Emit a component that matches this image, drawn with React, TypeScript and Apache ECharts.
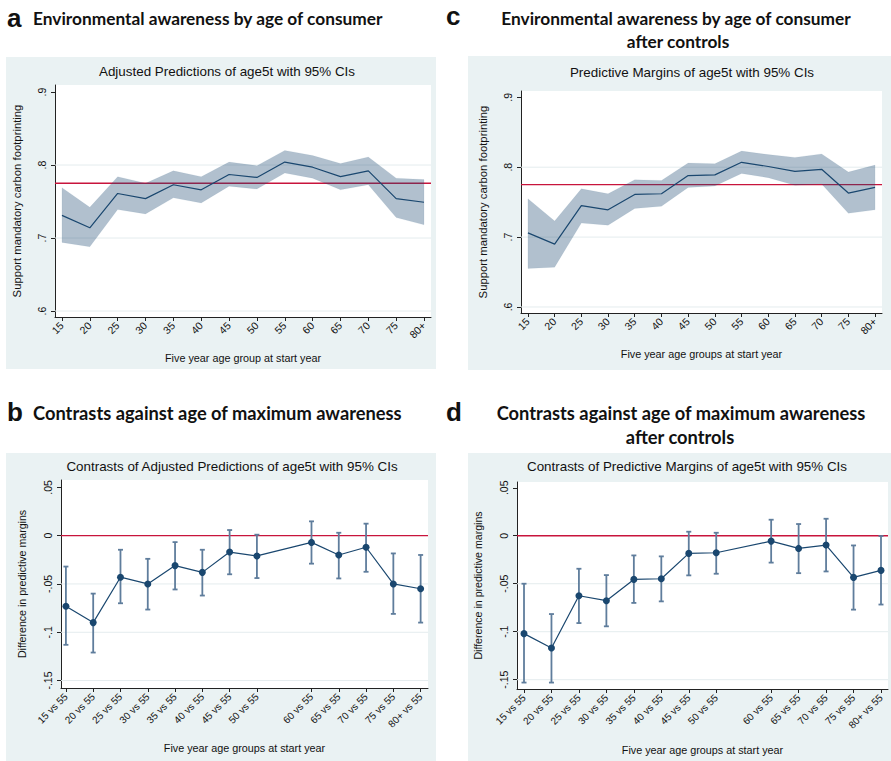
import React, { useEffect, useRef } from "react";
import * as echarts from "echarts";

// ---- data ----
const ages = ["15", "20", "25", "30", "35", "40", "45", "50", "55", "60", "65", "70", "75", "80+"];
const baseAge = "55";

// Panel a: Adjusted predictions
const predA = [0.731, 0.714, 0.761, 0.754, 0.773, 0.766, 0.787, 0.783, 0.804, 0.797, 0.784, 0.792, 0.754, 0.749];
const loA = [0.694, 0.688, 0.739, 0.733, 0.755, 0.748, 0.771, 0.767, 0.789, 0.782, 0.766, 0.773, 0.728, 0.718];
const hiA = [0.769, 0.742, 0.784, 0.775, 0.792, 0.784, 0.804, 0.799, 0.820, 0.813, 0.802, 0.811, 0.782, 0.780];
const refA = 0.775;

// Panel c: Predictive margins after controls
const predC = [0.706, 0.690, 0.745, 0.739, 0.761, 0.762, 0.788, 0.789, 0.807, 0.801, 0.794, 0.797, 0.763, 0.771];
const loC = [0.655, 0.657, 0.720, 0.717, 0.741, 0.744, 0.771, 0.773, 0.791, 0.785, 0.774, 0.776, 0.734, 0.739];
const hiC = [0.755, 0.723, 0.769, 0.762, 0.782, 0.781, 0.806, 0.805, 0.823, 0.818, 0.814, 0.819, 0.793, 0.803];
const refC = 0.775;

// Panel b: contrasts vs 55 (55 is the base, omitted)
const diffB = [-0.073, -0.090, -0.043, -0.050, -0.031, -0.038, -0.017, -0.021, null, -0.007, -0.020, -0.012, -0.050, -0.055];
const loB = [-0.113, -0.121, -0.070, -0.0765, -0.0557, -0.062, -0.040, -0.0439, null, -0.029, -0.0443, -0.0374, -0.081, -0.090];
const hiB = [-0.032, -0.060, -0.0146, -0.024, -0.0067, -0.0146, 0.0058, 0.001, null, 0.0148, 0.003, 0.0124, -0.0184, -0.020];

// Panel d: contrasts vs 55 after controls
const diffD = [-0.102, -0.117, -0.0625, -0.0677, -0.0455, -0.0448, -0.0184, -0.0177, null, -0.0056, -0.0132, -0.0097, -0.0434, -0.0361];
const loD = [-0.153, -0.153, -0.091, -0.0944, -0.070, -0.0684, -0.0413, -0.0396, null, -0.028, -0.039, -0.0372, -0.077, -0.0717];
const hiD = [-0.050, -0.0816, -0.0344, -0.041, -0.0205, -0.0215, 0.0042, 0.0031, null, 0.0167, 0.0122, 0.0177, -0.0101, -0.0003];
const refContrast = 0;

const levelTicks = [0.6, 0.7, 0.8, 0.9];
const contrastTicks = [-0.15, -0.1, -0.05, 0, 0.05];

const contrastLabels = ages.map((a) => (a === baseAge ? "" : `${a} vs 55`));

// ---- styles ----
const FONT = "'Liberation Sans', Arial, sans-serif";
const NAVY = "#1a476f";
const BAR = "#5f7d9c";
const RED = "#c8143c";
const BG = "#eaf2f3";
const GRIDLINE = "#e4ecee";

function fmt(v: number) {
  const r = Math.round(v * 100) / 100;
  if (r === 0) return "0";
  return String(r).replace("0.", ".");
}

export default function App() {
  const ref = useRef<HTMLDivElement>(null);

  useEffect(() => {
    if (!ref.current) return;
    const chart = echarts.init(ref.current, null, { renderer: "svg" });

    const grids = [
      { left: 55, top: 85, width: 376, height: 232 }, // a
      { left: 521, top: 91, width: 361, height: 222 }, // c
      { left: 61, top: 480, width: 367, height: 208 }, // b
      { left: 517, top: 482, width: 371, height: 207 }, // d
    ];
    const yRanges = [
      [0.5918, 0.9096],
      [0.5914, 0.909],
      [-0.1577, 0.0576],
      [-0.1597, 0.056],
    ];
    const xRanges = [
      [-0.25, 13.25],
      [-0.26, 13.26],
      [-0.18, 13.27],
      [-0.255, 13.255],
    ];
    const yNames = [
      "Support mandatory carbon footprinting",
      "Support mandatory carbon footprinting",
      "Difference in predictive margins",
      "Difference in predictive margins",
    ];
    const xNames = [
      "Five year age group at start year",
      "Five year age groups at start year",
      "Five year age groups at start year",
      "Five year age groups at start year",
    ];
    const xNameGaps = [35, 35, 54, 55];
    const yNameGaps = [33, 33, 34, 34];
    const yNameSizes = [11.3, 11.3, 10.6, 10.6];
    const allIdx = ages.map((_, i) => i);
    const contrastIdx = ages.map((_, i) => i).filter((i) => ages[i] !== baseAge);

    const axisLineStyle = { color: "#222", width: 1 };

    const xAxis = grids.map((_, g) => {
      const isContrast = g >= 2;
      const vals = isContrast ? contrastIdx : allIdx;
      const labels = isContrast ? contrastLabels : ages;
      return {
        type: "value",
        gridIndex: g,
        min: xRanges[g][0],
        max: xRanges[g][1],
        axisLine: { show: true, onZero: false, lineStyle: axisLineStyle },
        axisTick: { show: true, length: 4, customValues: vals, lineStyle: axisLineStyle },
        axisLabel: {
          customValues: vals,
          rotate: 45,
          margin: 7,
          fontSize: isContrast ? 10 : 10.5,
          fontFamily: FONT,
          color: "#111",
          formatter: (v: number) => labels[Math.round(v)],
        },
        splitLine: { show: false },
        name: xNames[g],
        nameLocation: "middle",
        nameGap: xNameGaps[g],
        nameTextStyle: { fontSize: 10.8, fontFamily: FONT, color: "#111" },
      };
    });

    const yAxis = grids.map((_, g) => {
      const ticks = g < 2 ? levelTicks : contrastTicks;
      return {
        type: "value",
        gridIndex: g,
        min: yRanges[g][0],
        max: yRanges[g][1],
        axisLine: { show: true, onZero: false, lineStyle: axisLineStyle },
        axisTick: { show: true, length: 4, customValues: ticks, lineStyle: axisLineStyle },
        axisLabel: {
          customValues: ticks,
          rotate: 90,
          margin: 8,
          fontSize: 10.5,
          fontFamily: FONT,
          color: "#111",
          formatter: (v: number) => fmt(v),
        },
        splitLine: { show: false },
        name: yNames[g],
        nameLocation: "middle",
        nameRotate: 90,
        nameGap: yNameGaps[g],
        nameTextStyle: { fontSize: yNameSizes[g], fontFamily: FONT, color: "#111" },
      };
    });

    const series: any[] = [];

    // horizontal lines at given y values, spanning the grid (through the axis scale)
    const hLines = (g: number, values: number[], color: string, width: number, z: number) => ({
      type: "custom",
      xAxisIndex: g,
      yAxisIndex: g,
      z,
      silent: true,
      data: values.map((v) => [v]),
      renderItem: (params: any, api: any) => {
        const cs = params.coordSys;
        const y = api.coord([xRanges[g][0], api.value(0)])[1];
        return {
          type: "line",
          shape: { x1: cs.x, y1: y, x2: cs.x + cs.width, y2: y },
          style: { stroke: color, lineWidth: width },
        };
      },
    });

    // Band panels (a, c)
    const bandPanels = [
      { g: 0, pred: predA, lo: loA, hi: hiA, ref: refA },
      { g: 1, pred: predC, lo: loC, hi: hiC, ref: refC },
    ];
    bandPanels.forEach(({ g, pred, lo, hi, ref: rv }) => {
      series.push(hLines(g, levelTicks.slice(0, 3), GRIDLINE, 1, 1));
      series.push(hLines(g, [rv], RED, 1.3, 2));
      series.push({
        type: "custom",
        xAxisIndex: g,
        yAxisIndex: g,
        z: 3,
        silent: true,
        data: lo.map((v, i) => [i, v, hi[i]]),
        renderItem: (params: any, api: any) => {
          if (params.dataIndex !== 0) return null;
          const upper = hi.map((v, i) => api.coord([i, v]));
          const lower = lo.map((v, i) => api.coord([i, v])).reverse();
          return {
            type: "polygon",
            shape: { points: upper.concat(lower) },
            style: { fill: NAVY, opacity: 0.34, stroke: NAVY, lineWidth: 0.6, strokeOpacity: 0.25 },
          };
        },
      });
      series.push({
        type: "line",
        xAxisIndex: g,
        yAxisIndex: g,
        data: pred.map((v, i) => [i, v]),
        symbol: "none",
        lineStyle: { color: NAVY, width: 1.2 },
        z: 4,
      });
    });

    // Contrast panels (b, d)
    const contrastPanels = [
      { g: 2, diff: diffB, lo: loB, hi: hiB },
      { g: 3, diff: diffD, lo: loD, hi: hiD },
    ];
    contrastPanels.forEach(({ g, diff, lo, hi }) => {
      series.push(hLines(g, contrastTicks.slice(0, 3), GRIDLINE, 1, 1));
      series.push(hLines(g, [refContrast], RED, 1.3, 2));
      series.push({
        type: "custom",
        xAxisIndex: g,
        yAxisIndex: g,
        z: 3,
        silent: true,
        data: ages
          .map((_, i) => [i, lo[i], hi[i]])
          .filter((d) => d[1] !== null),
        renderItem: (params: any, api: any) => {
          const x = api.value(0);
          const pLo = api.coord([x, api.value(1)]);
          const pHi = api.coord([x, api.value(2)]);
          const c = 2.5;
          const st = { stroke: BAR, lineWidth: 1.8 };
          return {
            type: "group",
            children: [
              { type: "line", shape: { x1: pLo[0], y1: pLo[1], x2: pHi[0], y2: pHi[1] }, style: st },
              { type: "line", shape: { x1: pLo[0] - c, y1: pLo[1], x2: pLo[0] + c, y2: pLo[1] }, style: st },
              { type: "line", shape: { x1: pHi[0] - c, y1: pHi[1], x2: pHi[0] + c, y2: pHi[1] }, style: st },
            ],
          };
        },
      });
      series.push({
        type: "line",
        xAxisIndex: g,
        yAxisIndex: g,
        data: diff.map((v, i) => [i, v]).filter((d) => d[1] !== null),
        symbol: "circle",
        symbolSize: 7,
        showSymbol: true,
        itemStyle: { color: NAVY },
        lineStyle: { color: NAVY, width: 1.2 },
        z: 4,
      });
    });

    const headFont = "bold 17.3px Lato, 'Open Sans', sans-serif";
    const headFont2 = "bold 18.3px Lato, 'Open Sans', sans-serif";
    const letterFont = "bold 26px 'Liberation Sans', Arial, sans-serif";
    const subFont = `13.4px ${FONT}`;
    const txt = (x: number, y: number, text: string, font: string, align = "left") => ({
      type: "text",
      x,
      y,
      z: 100,
      style: { text, font, fill: "#111", textAlign: align, textVerticalAlign: "middle" },
    });

    const graphic: any[] = [
      // panel backgrounds
      { type: "rect", z: -100, shape: { x: 6, y: 57, width: 430, height: 312 }, style: { fill: BG } },
      { type: "rect", z: -100, shape: { x: 468, y: 56, width: 423, height: 314 }, style: { fill: BG } },
      { type: "rect", z: -100, shape: { x: 6, y: 453, width: 430, height: 308 }, style: { fill: BG } },
      { type: "rect", z: -100, shape: { x: 468, y: 453, width: 423, height: 308 }, style: { fill: BG } },
      // plot areas
      ...grids.map((gr) => ({
        type: "rect",
        z: -90,
        shape: { x: gr.left, y: gr.top, width: gr.width, height: gr.height },
        style: { fill: "#ffffff" },
      })),
      // headings
      txt(7, 18, "a", letterFont),
      txt(33, 18, "Environmental awareness by age of consumer", headFont),
      txt(446, 16, "c", letterFont),
      txt(676, 18, "Environmental awareness by age of consumer", headFont, "center"),
      txt(678, 41, "after controls", headFont, "center"),
      txt(7, 412, "b", letterFont),
      txt(33, 413, "Contrasts against age of maximum awareness", headFont2),
      txt(446, 412, "d", letterFont),
      txt(681, 413, "Contrasts against age of maximum awareness", headFont2, "center"),
      txt(680, 437, "after controls", headFont2, "center"),
      // panel subtitles
      txt(227, 71, "Adjusted Predictions of age5t with 95% CIs", subFont, "center"),
      txt(692, 72, "Predictive Margins of age5t with 95% CIs", subFont, "center"),
      txt(232, 466, "Contrasts of Adjusted Predictions of age5t with 95% CIs", subFont, "center"),
      txt(687, 466, "Contrasts of Predictive Margins of age5t with 95% CIs", subFont, "center"),
    ];

    chart.setOption({
      animation: false,
      backgroundColor: "#ffffff",
      grid: grids.map((gr) => ({ ...gr, containLabel: false, show: false })),
      xAxis,
      yAxis,
      series,
      graphic,
    });

    return () => chart.dispose();
  }, []);

  return (
    <div
      ref={ref}
      style={{ position: "absolute", left: 0, top: 0, width: 891, height: 761, background: "#fff" }}
    />
  );
}
